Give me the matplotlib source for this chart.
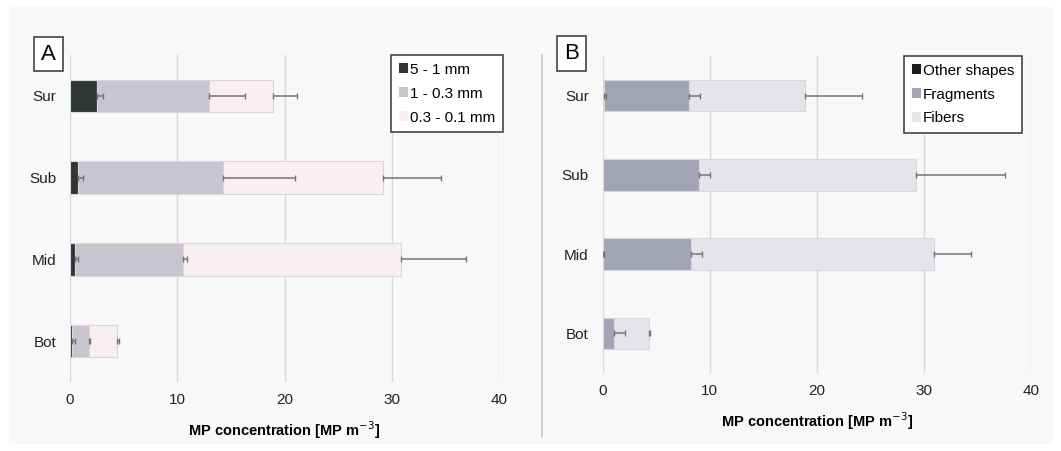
import numpy as np
import matplotlib
matplotlib.use('Agg')
import matplotlib.pyplot as plt
from matplotlib.patches import Rectangle, Patch
from matplotlib.lines import Line2D

plt.rcParams['font.family'] = ['Liberation Sans', 'DejaVu Sans']

depths = ['Sur', 'Sub', 'Mid', 'Bot']

# panel A: size classes (segment values and plus-error of each segment)
size_labels = ['5 - 1 mm', '1 - 0.3 mm', '0.3 - 0.1 mm']
size_vals = [[2.5, 0.7, 0.43, 0.19],
             [10.5, 13.55, 10.1, 1.55],
             [5.95, 14.95, 20.35, 2.6]]
size_err = [[0.55, 0.53, 0.35, 0.24],
            [3.3, 6.75, 0.37, 0.12],
            [2.25, 5.4, 6.0, 0.26]]
size_colors = ['#2f3434', '#c8c5d0', '#f9eff0']

# panel B: shapes
shape_labels = ['Other shapes', 'Fragments', 'Fibers']
shape_vals = [[0.16, 0.0, 0.03, 0.0],
              [7.9, 9.0, 8.22, 1.06],
              [10.8, 20.23, 22.69, 3.27]]
shape_err = [[0.18, 0.0, 0.12, 0.0],
             [1.03, 1.0, 1.0, 1.03],
             [5.34, 8.37, 3.49, 0.09]]
shape_colors = ['#1c1e1e', '#a3a4b3', '#e6e4ea']

fig = plt.figure(figsize=(10.61, 4.51), dpi=100)
fig.patch.set_facecolor('white')
fig.patches.append(Rectangle((9/1061, 1-444/451), 1044/1061, 437/451,
                             transform=fig.transFigure, facecolor='#f8f8f8',
                             edgecolor='none', zorder=-5))
fig.lines.append(Line2D([542/1061, 542/1061], [1-55/451, 1-437/451],
                        transform=fig.transFigure, color='#c8c8c8', lw=1.2,
                        zorder=-4))


def draw_panel(rect, vals, errs, colors, labels, letter, letter_pos, leg_box):
    ax = fig.add_axes(rect)
    ax.set_facecolor('none')
    y = np.arange(len(depths))
    left = np.zeros(len(depths))
    for v, e, c in zip(vals, errs, colors):
        v = np.array(v)
        ax.barh(y, v, left=left, height=0.4, color=c, edgecolor='#d9d7de',
                linewidth=0.8, zorder=2)
        end = left + v
        mask = np.array(e) > 0
        ax.errorbar(end[mask], y[mask],
                    xerr=[np.zeros(mask.sum()), np.array(e)[mask]],
                    fmt='none', ecolor='#747474', elinewidth=1.1,
                    capsize=2.5, capthick=1, zorder=3)
        left = end
    ax.set_ylim(3.5, -0.5)
    ax.set_xlim(0, 40)
    ax.set_xticks([0, 10, 20, 30, 40])
    ax.set_yticks(y)
    ax.set_yticklabels(depths)
    ax.grid(axis='x', color='#d8d8d8', lw=1, zorder=0)
    ax.set_axisbelow(True)
    for s in ax.spines.values():
        s.set_visible(False)
    ax.tick_params(length=0, labelsize=11, colors='#222222', pad=8)
    ax.tick_params(axis='y', pad=10)
    ax.set_xlabel('MP concentration [MP m$^{-3}$]', fontsize=10.5,
                  fontweight='bold', labelpad=9)
    fig.text(letter_pos[0], letter_pos[1], letter, fontsize=16,
             ha='center', va='center',
             bbox=dict(boxstyle='square,pad=0.3', facecolor='white',
                       edgecolor='#444444', lw=1.2))
    handles = [Patch(facecolor=c, edgecolor='none') for c in colors]
    ax.legend(handles, labels, loc='upper left', bbox_to_anchor=leg_box,
              bbox_transform=fig.transFigure, fontsize=11,
              handlelength=0.6, handleheight=0.6, handletextpad=0.15,
              labelspacing=0.65, borderpad=0.5, borderaxespad=0,
              fancybox=False, framealpha=1, facecolor='white',
              edgecolor='#444444')
    ax.get_legend().get_frame().set_linewidth(1.2)
    return ax


draw_panel([70/1061, 1-382/451, 429/1061, 327/451], size_vals, size_err,
           size_colors, size_labels, 'A', (48.5/1061, 1-54/451),
           (391/1061, 1-55/451))
draw_panel([602.7/1061, 1-373/451, 428.3/1061, 317/451], shape_vals, shape_err,
           shape_colors, shape_labels, 'B', (571.5/1061, 1-53.5/451),
           (904/1061, 1-56/451))

fig.savefig('out.png', dpi=100)
